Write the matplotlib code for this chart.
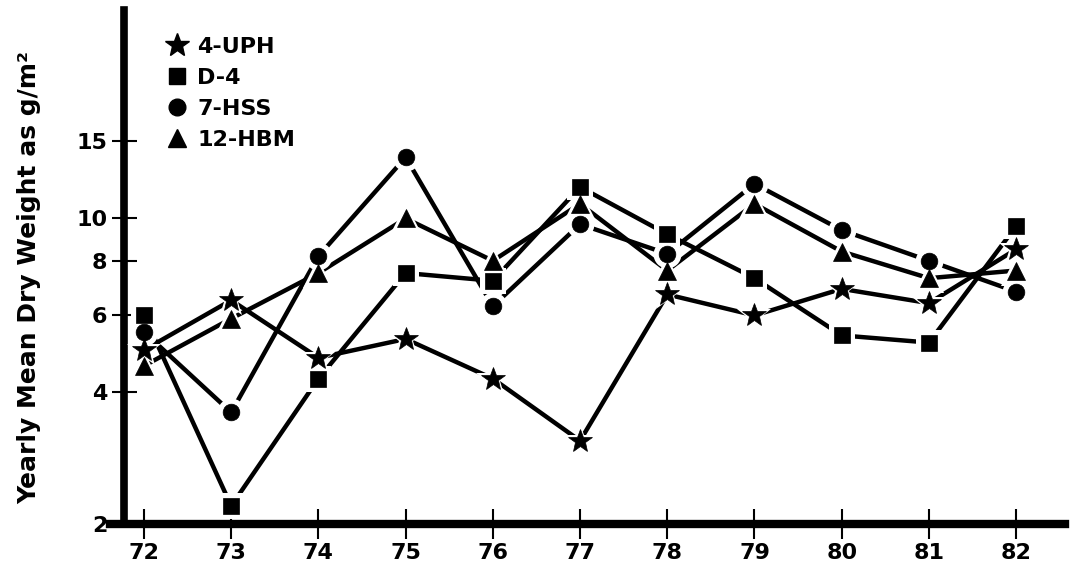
"""
Yearly mean dry weight by station, 1972-1982 (log scale).
"""
import numpy as np
import matplotlib
matplotlib.use("Agg")
import matplotlib.pyplot as plt
from matplotlib.lines import Line2D

matplotlib.rcParams.update({
    'font.family': 'DejaVu Sans',
    'font.weight': 'bold',
})

YEARS = [72, 73, 74, 75, 76, 77, 78, 79, 80, 81, 82]
UPH_4 = [5.0, 6.5, 4.8, 5.3, 4.3, 3.1, 6.7, 6.0, 6.9, 6.4, 8.5]
D_4 = [6.0, 2.2, 4.3, 7.5, 7.2, 11.8, 9.2, 7.3, 5.4, 5.2, 9.6]
HSS_7 = [5.5, 3.6, 8.2, 13.8, 6.3, 9.7, 8.3, 12.0, 9.4, 8.0, 6.8]
HBM_12 = [4.6, 5.9, 7.5, 10.0, 8.0, 10.8, 7.6, 10.8, 8.4, 7.3, 7.6]

SERIES = [("4-UPH", UPH_4, "*", 18),
          ("D-4", D_4, "s", 11),
          ("7-HSS", HSS_7, "o", 12),
          ("12-HBM", HBM_12, "^", 13)]

YTICKS = [2, 4, 6, 8, 10, 15]

fig = plt.figure(figsize=(10.74, 5.77), dpi=100)
ax = fig.add_axes([0.1024, 0.0919, 0.8892, 0.891])

# lines first, markers with white halo on top
for name, vals, mk, ms in SERIES:
    ax.plot(YEARS, vals, color="black", lw=3.2, zorder=2,
            solid_capstyle="butt")
for name, vals, mk, ms in SERIES:
    ax.plot(YEARS, vals, ls="none", marker=mk, ms=ms + 8, mfc="white",
            mec="white", mew=0, zorder=3)
    ax.plot(YEARS, vals, ls="none", marker=mk, ms=ms, mfc="black",
            mec="black", mew=0.5, zorder=4)

ax.set_yscale("log")
ax.set_ylim(2, 30)
ax.set_xlim(71.61, 82.56)
ax.set_yticks(YTICKS)
ax.set_yticklabels([str(t) for t in YTICKS])
ax.yaxis.set_minor_locator(matplotlib.ticker.NullLocator())
ax.set_xticks(YEARS)
ax.set_xticklabels([str(y) for y in YEARS])

ax.spines["top"].set_visible(False)
ax.spines["right"].set_visible(False)
ax.spines["left"].set_position(("data", 71.77))
ax.spines["left"].set_linewidth(5.5)
ax.spines["bottom"].set_linewidth(6)

ax.tick_params(axis="y", direction="inout", length=18, width=1.5,
               labelsize=16, pad=3)
ax.tick_params(axis="x", direction="inout", length=22, width=1.5,
               labelsize=16, pad=3)

ax.set_ylabel("Yearly Mean Dry Weight as g/m\u00b2", fontsize=18,
              fontweight="bold")
ax.yaxis.set_label_coords(-0.072, 0.48)

handles = [Line2D([], [], ls="none", marker=mk, ms=ms, color="black")
           for name, vals, mk, ms in SERIES]
ax.legend(handles, [s[0] for s in SERIES], loc="upper left",
          bbox_to_anchor=(0.052, 0.965), frameon=False, fontsize=16,
          handlelength=0.8, handletextpad=0.5, labelspacing=0.5,
          borderaxespad=0)

fig.savefig("out.png", dpi=100)
